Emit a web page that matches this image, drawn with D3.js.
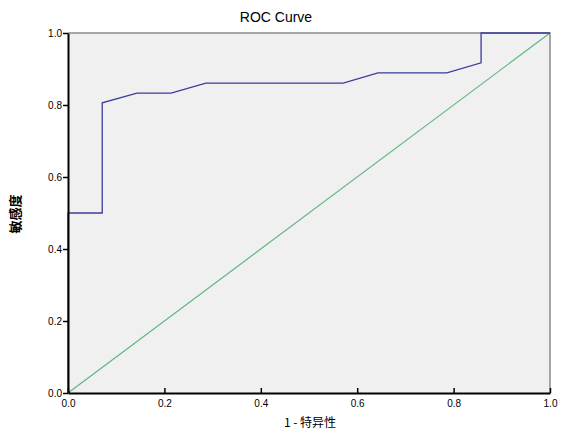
<!DOCTYPE html>
<html>
<head>
<meta charset="utf-8">
<script src="https://cdn.jsdelivr.net/npm/d3@7"></script>
<style>
  body { margin: 0; background: #fff; }
  svg { display: block; font-family: "Liberation Sans", Arial, sans-serif; }
</style>
</head>
<body>
<div id="chart"></div>
<script>
// ROC curve points: 1 - specificity, sensitivity
const fpr = [0, 0, 0.071, 0.071, 0.143, 0.214, 0.286, 0.571, 0.643, 0.786, 0.857, 0.857, 1];
const tpr = [0, 0.5, 0.5, 0.806, 0.833, 0.833, 0.861, 0.861, 0.889, 0.889, 0.917, 1, 1];
// reference diagonal
const refX = [0, 1];
const refY = [0, 1];
const ticks = [0, 0.2, 0.4, 0.6, 0.8, 1.0];

const title = 'ROC Curve';
const xTitle = '1 - 特异性';
const yTitle = '敏感度';

const width = 563;
const height = 438;
const margin = { top: 33, right: 13, bottom: 45, left: 68 };

const svg = d3.select('#chart')
  .append('svg')
  .attr('width', width)
  .attr('height', height);

const x = d3.scaleLinear().domain([0, 1]).range([margin.left, width - margin.right]);
const y = d3.scaleLinear().domain([0, 1]).range([height - margin.bottom, margin.top]);

// Plot background
svg.append('rect')
  .attr('x', x(0))
  .attr('y', y(1))
  .attr('width', x(1) - x(0))
  .attr('height', y(0) - y(1))
  .attr('fill', '#f0f0f0');

// Top and right frame
svg.append('path')
  .attr('d', `M${x(0)},${y(1)}H${x(1)}V${y(0)}`)
  .attr('fill', 'none')
  .attr('stroke', '#8c8c8c')
  .attr('stroke-width', 1.5);

// Reference line
const refLine = d3.line().x((d, i) => x(refX[i])).y((d, i) => y(refY[i]));
svg.append('path')
  .datum(refX)
  .attr('d', refLine)
  .attr('fill', 'none')
  .attr('stroke', '#5bb87e')
  .attr('stroke-width', 1.2);

// ROC curve
const rocLine = d3.line().x((d, i) => x(fpr[i])).y((d, i) => y(tpr[i]));
svg.append('path')
  .datum(fpr)
  .attr('d', rocLine)
  .attr('fill', 'none')
  .attr('stroke', '#3c3c9c')
  .attr('stroke-width', 1.3);

// Axes
const fmt = d3.format('.1f');
const xAxis = svg.append('g')
  .attr('transform', `translate(0,${y(0)})`)
  .call(d3.axisBottom(x).tickValues(ticks).tickFormat(fmt).tickSize(5).tickSizeOuter(0));
const yAxis = svg.append('g')
  .attr('transform', `translate(${x(0)},0)`)
  .call(d3.axisLeft(y).tickValues(ticks).tickFormat(fmt).tickSize(5).tickSizeOuter(0));

[xAxis, yAxis].forEach(a => {
  a.select('.domain').attr('stroke', '#000').attr('stroke-width', 2);
  a.selectAll('.tick line').attr('stroke', '#000').attr('stroke-width', 1.5);
  a.selectAll('.tick text')
    .attr('fill', '#000')
    .style('font-size', '10px')
    .style('font-family', '"Liberation Sans", Arial, sans-serif');
});
xAxis.selectAll('.tick line').attr('y2', -5).attr('y1', 0);
xAxis.selectAll('.tick text').attr('y', 7);
yAxis.selectAll('.tick text').attr('x', -6);

// Titles
svg.append('text')
  .attr('x', 276)
  .attr('y', 22)
  .attr('text-anchor', 'middle')
  .style('font-size', '14px')
  .text(title);

svg.append('text')
  .attr('x', 310)
  .attr('y', 427)
  .attr('text-anchor', 'middle')
  .style('font-family', '"Noto Sans CJK SC", sans-serif')
  .style('font-size', '12px')
  .text(xTitle);

svg.append('text')
  .attr('transform', 'translate(20,214) rotate(-90)')
  .attr('text-anchor', 'middle')
  .style('font-family', '"Noto Sans CJK SC", sans-serif')
  .style('font-size', '13px')
  .style('font-weight', 'bold')
  .text(yTitle);
</script>
</body>
</html>
